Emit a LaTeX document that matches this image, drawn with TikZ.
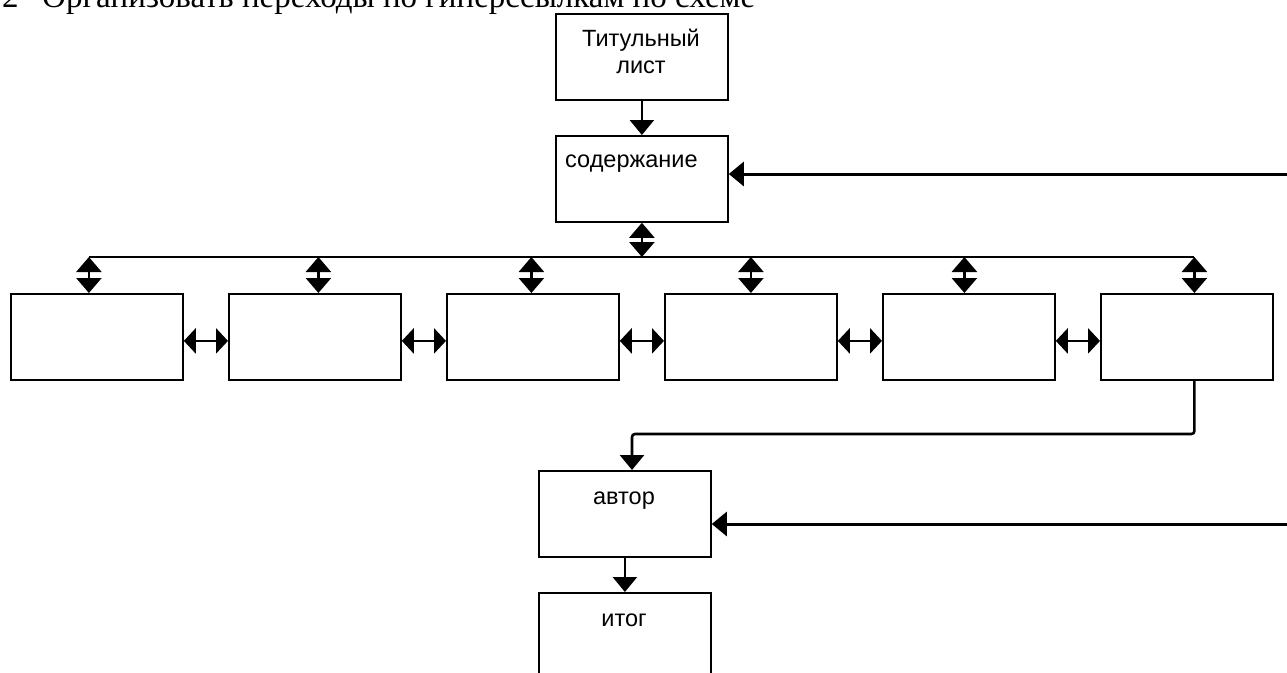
\documentclass[tikz,border=0pt]{standalone}
\usepackage{fontspec}
\setmainfont{Liberation Serif}
\newfontfamily\arialf{Liberation Sans}
\usetikzlibrary{arrows.meta,calc}
\begin{document}
\begin{tikzpicture}[x=1pt,y=-1pt,
  box/.style={draw, line width=1.8pt, minimum width=172pt, minimum height=86pt, anchor=north west, inner sep=0pt},
  lbl/.style={font=\arialf\fontsize{23.5}{27}\selectfont, inner sep=0pt},
  conn/.style={line width=2.6pt, -{Triangle[width=24pt,length=15pt]}},
  dv/.style={line width=2.6pt, {Triangle[width=25pt,length=15pt]}-{Triangle[width=25pt,length=15pt]}},
  dh/.style={line width=2.6pt, {Triangle[width=25pt,length=12pt]}-{Triangle[width=25pt,length=12pt]}},
  bus/.style={line width=1.5pt}
]
\clip (0,0) rectangle (1287,672);
\fill[white] (0,0) rectangle (1287,672);

% header (cut at top)
\node[anchor=base west, font=\fontsize{33}{40}\selectfont, inner sep=0pt] (hdr) at (2,7)
  {2\hspace{23.5pt}Организовать переходы по гиперссылкам по схеме};

% boxes
\node[box] (tit) at (555,13) {};
\node[box] (cont) at (555,135) {};
\node[box] (b1) at (10,293) {};
\node[box] (b2) at (228,293) {};
\node[box] (b3) at (446,293) {};
\node[box] (b4) at (664,293) {};
\node[box] (b5) at (882,293) {};
\node[box] (b6) at (1100,293) {};
\node[box] (avt) at (538,470) {};
\node[box] (itg) at (538,592) {};

% texts
\node[lbl, anchor=base] (titA) at (641,46) {Титульный};
\node[lbl, anchor=base] (titB) at (641,73) {лист};
\node[lbl, anchor=base west] (contT) at (565,167) {содержание};
\node[lbl, anchor=base] (avtT) at (624,504) {автор};
\node[lbl, anchor=base] (itgT) at (624,626) {итог};

% helper coordinates
\coordinate (busY) at (0,257);
\coordinate (t1) at ($(b1.north)+(-8,0)$);
\coordinate (t2) at ($(b2.north)+(3.5,0)$);
\coordinate (t3) at ($(b3.north)+(-1.5,0)$);
\coordinate (t4) at (b4.north);
\coordinate (t5) at ($(b5.north)+(-4.5,0)$);
\coordinate (t6) at ($(b6.north)+(7.5,0)$);
\coordinate (jY) at (0,434);
\coordinate (aX) at (632,0);
\coordinate (r1) at (1287,174);
\coordinate (r2) at (1287,524);

% connectors
\draw[conn] (tit.south) -- (cont.north);
\draw[dv] (cont.south) -- (cont.south |- busY);
\draw[bus] (t1 |- busY) -- (t6 |- busY);
\foreach \t in {t1,t2,t3,t4,t5,t6}{
  \draw[dv] (\t |- busY) -- (\t);
}
\draw[dh] ([yshift=-4pt]b1.east) -- ([yshift=-4pt]b2.west);
\draw[dh] ([yshift=-4pt]b2.east) -- ([yshift=-4pt]b3.west);
\draw[dh] ([yshift=-4pt]b3.east) -- ([yshift=-4pt]b4.west);
\draw[dh] ([yshift=-4pt]b4.east) -- ([yshift=-4pt]b5.west);
\draw[dh] ([yshift=-4pt]b5.east) -- ([yshift=-4pt]b6.west);
\draw[conn, rounded corners=3pt] (t6 |- b6.south) -- (t6 |- jY) -- (aX |- jY) -- (aX |- avt.north);
\draw[conn] (avt.south) -- (itg.north);
\draw[conn, line width=3pt] (r1) -- (r1 -| cont.east);
\draw[conn, line width=3pt] (r2) -- (r2 -| avt.east);
\end{tikzpicture}
\end{document}
